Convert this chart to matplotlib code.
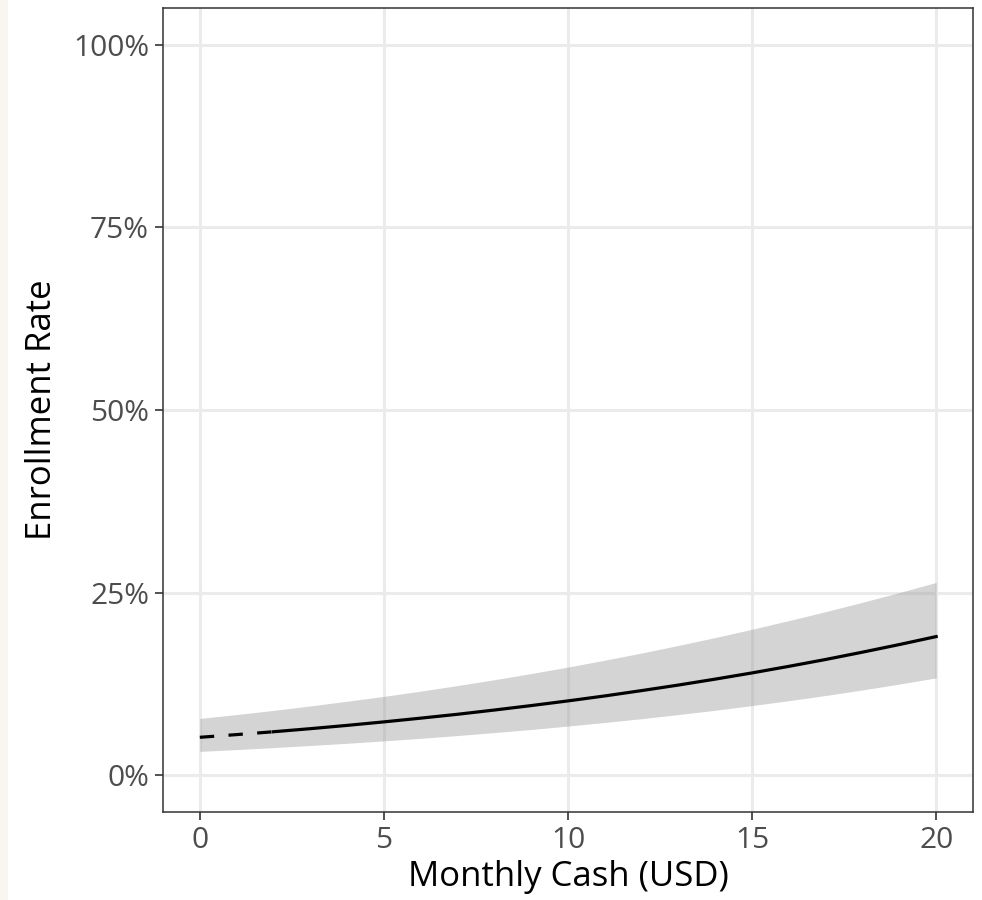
import matplotlib.pyplot as plt
from matplotlib.patches import Rectangle
from matplotlib.ticker import PercentFormatter

# Monthly cash amounts (USD) and predicted enrollment with its interval
cash = [0, 1, 2, 3, 4, 5, 6, 7, 8, 9, 10, 11, 12, 13, 14, 15, 16, 17, 18, 19, 20]
rate = [0.0522, 0.0559, 0.0598, 0.0640, 0.0685, 0.0733, 0.0784, 0.0837, 0.0895, 0.0956,
        0.1020, 0.1088, 0.1161, 0.1237, 0.1318, 0.1403, 0.1493, 0.1587, 0.1687, 0.1791, 0.1900]
lower = [0.0329, 0.0354, 0.0381, 0.0410, 0.0440, 0.0473, 0.0508, 0.0546, 0.0587, 0.0629,
         0.0676, 0.0725, 0.0777, 0.0833, 0.0892, 0.0956, 0.1023, 0.1094, 0.1170, 0.1250, 0.1335]
upper = [0.0780, 0.0833, 0.0890, 0.0951, 0.1015, 0.1082, 0.1154, 0.1230, 0.1310, 0.1394,
         0.1483, 0.1577, 0.1675, 0.1779, 0.1887, 0.2000, 0.2119, 0.2241, 0.2370, 0.2502, 0.2641]
x_ticks = [0, 5, 10, 15, 20]
y_ticks = [0, 0.25, 0.5, 0.75, 1.0]
# index where the extrapolated (dashed) part ends
split = 2

plt.rcParams['font.family'] = ['Open Sans', 'DejaVu Sans']

fig = plt.figure(figsize=(9.82, 9.0), dpi=100)
fig.patches.append(Rectangle((0, 0), 8 / 982, 1, transform=fig.transFigure,
                             facecolor='#f7f7ef', edgecolor='none', zorder=0))
ax = fig.add_axes([163 / 982, 1 - 812 / 900, 810 / 982, 804 / 900])

ax.fill_between(cash, lower, upper, color='#999999', alpha=0.42, linewidth=0, zorder=2)
ax.plot(cash[:split + 1], rate[:split + 1], color='black', lw=2.3,
        linestyle=(0, (4.5, 4.5)), zorder=3)
ax.plot(cash[split:], rate[split:], color='black', lw=2.3, zorder=3)

ax.set_xlim(-1, 21)
ax.set_ylim(-0.05, 1.05)
ax.set_xticks(x_ticks)
ax.set_yticks(y_ticks)
ax.yaxis.set_major_formatter(PercentFormatter(1.0, decimals=0))

ax.grid(True, color='#ebebeb', linewidth=2.2, zorder=0)
ax.set_axisbelow(True)
for s in ax.spines.values():
    s.set_color('#333333')
    s.set_linewidth(1.1)
ax.tick_params(axis='both', length=6, width=1.2, color='#333333',
               labelsize=21.5, labelcolor='#4d4d4d', pad=4)

ax.set_xlabel('Monthly Cash (USD)', fontsize=25, color='black', labelpad=4)
ax.set_ylabel('Enrollment Rate', fontsize=25, color='black', labelpad=10)

fig.savefig('out.png', dpi=100)
